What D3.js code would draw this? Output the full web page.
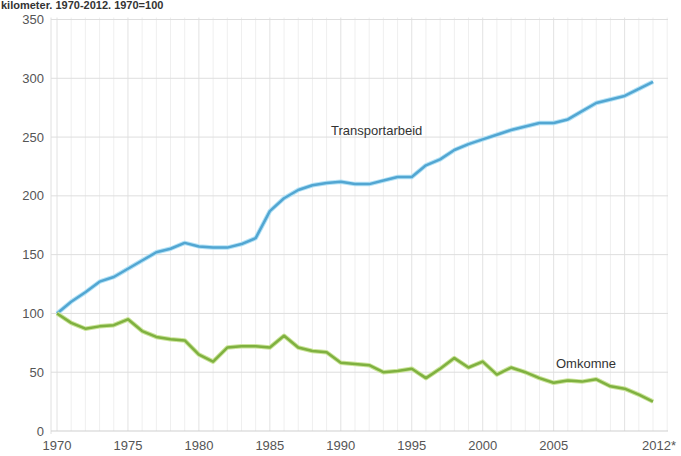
<!DOCTYPE html>
<html><head><meta charset="utf-8">
<script src="https://cdn.jsdelivr.net/npm/d3@7"></script>
<style>body{margin:0;background:#fff;}svg{display:block;font-family:Arial,"Liberation Sans",sans-serif;}</style>
</head><body><svg id="c" width="681" height="456"></svg>
<script>
const years = d3.range(1970, 2013);
const transportarbeid = [100,110,118,127,131,138,145,152,155,160,157,156,156,159,164,187,198,205,209,211,
  212,210,210,213,216,216,226,231,239,244,248,252,256,259,262,262,265,272,279,282,285,291,297];
const omkomne = [100,92,87,89,90,95,85,80,78,77,65,59,71,72,72,71,81,71,68,67,
  58,57,56,50,51,53,45,53,62,54,59,48,54,50,45,41,43,42,44,38,36,31,25];
const yTicks = [0,50,100,150,200,250,300,350];
const xTickYears = [1970,1975,1980,1985,1990,1995,2000,2005,2012];
const xTickLabels = ["1970","1975","1980","1985","1990","1995","2000","2005","2012*"];
const seriesNames = ["Transportarbeid","Omkomne"];
const titleText = "kilometer. 1970-2012. 1970=100";

const svg = d3.select("#c");
const x = d3.scaleLinear().domain([1970, 2012]).range([57, 653]);
const y = d3.scaleLinear().domain([0, 350]).range([431, 19.5]);

// title
svg.append("text").attr("x", 1).attr("y", 9).attr("font-size", 11).attr("font-weight", "bold")
  .attr("fill", "#333").text(titleText);

// vertical grid lines per year
svg.append("g").selectAll("line").data(d3.range(1970, 2014)).join("line")
  .attr("x1", d => x(d)).attr("x2", d => x(d))
  .attr("y1", y(350) - 2).attr("y2", y(0))
  .attr("stroke", d => (d % 5 === 0) ? "#e2e2e2" : "#efefef").attr("stroke-width", 1);

// left axis line
svg.append("line").attr("x1", 51).attr("x2", 51).attr("y1", y(350) - 2).attr("y2", y(0) + 3)
  .attr("stroke", "#e0e0e0");

// horizontal grid
svg.append("g").selectAll("line").data(yTicks).join("line")
  .attr("x1", 51).attr("x2", 668).attr("y1", d => y(d)).attr("y2", d => y(d))
  .attr("stroke", d => d === 0 ? "#cfcfcf" : "#dedede").attr("stroke-width", 1);

// y labels
svg.append("g").selectAll("text").data(yTicks).join("text")
  .attr("x", 44).attr("y", d => y(d) + 4.5).attr("text-anchor", "end")
  .attr("font-size", 13).attr("fill", "#555").text(d => d);

// x labels
svg.append("g").selectAll("text").data(xTickYears).join("text")
  .attr("x", (d, i) => x(d) + (i === xTickYears.length - 1 ? 6 : 0)).attr("y", 450)
  .attr("text-anchor", "middle").attr("font-size", 13).attr("fill", "#555")
  .text((d, i) => xTickLabels[i]);

const line = d3.line().x((d, i) => x(years[i])).y(d => y(d));

// blue line with halo
svg.append("path").datum(transportarbeid).attr("d", line).attr("fill", "none")
  .attr("stroke", "#b3e2f6").attr("stroke-width", 4.5).attr("stroke-linejoin", "round");
svg.append("path").datum(transportarbeid).attr("d", line).attr("fill", "none")
  .attr("stroke", "#52a6d2").attr("stroke-width", 2.5).attr("stroke-linejoin", "round");

// green line
svg.append("path").datum(omkomne).attr("d", line).attr("fill", "none")
  .attr("stroke", "#cbe49a").attr("stroke-width", 4.5).attr("stroke-linejoin", "round");
svg.append("path").datum(omkomne).attr("d", line).attr("fill", "none")
  .attr("stroke", "#7fb140").attr("stroke-width", 2.5).attr("stroke-linejoin", "round");

// series labels
svg.append("text").attr("x", 331).attr("y", 135).attr("font-size", 13).attr("fill", "#333")
  .text(seriesNames[0]);
svg.append("text").attr("x", 556).attr("y", 368).attr("font-size", 13).attr("fill", "#333")
  .text(seriesNames[1]);
</script></body></html>
